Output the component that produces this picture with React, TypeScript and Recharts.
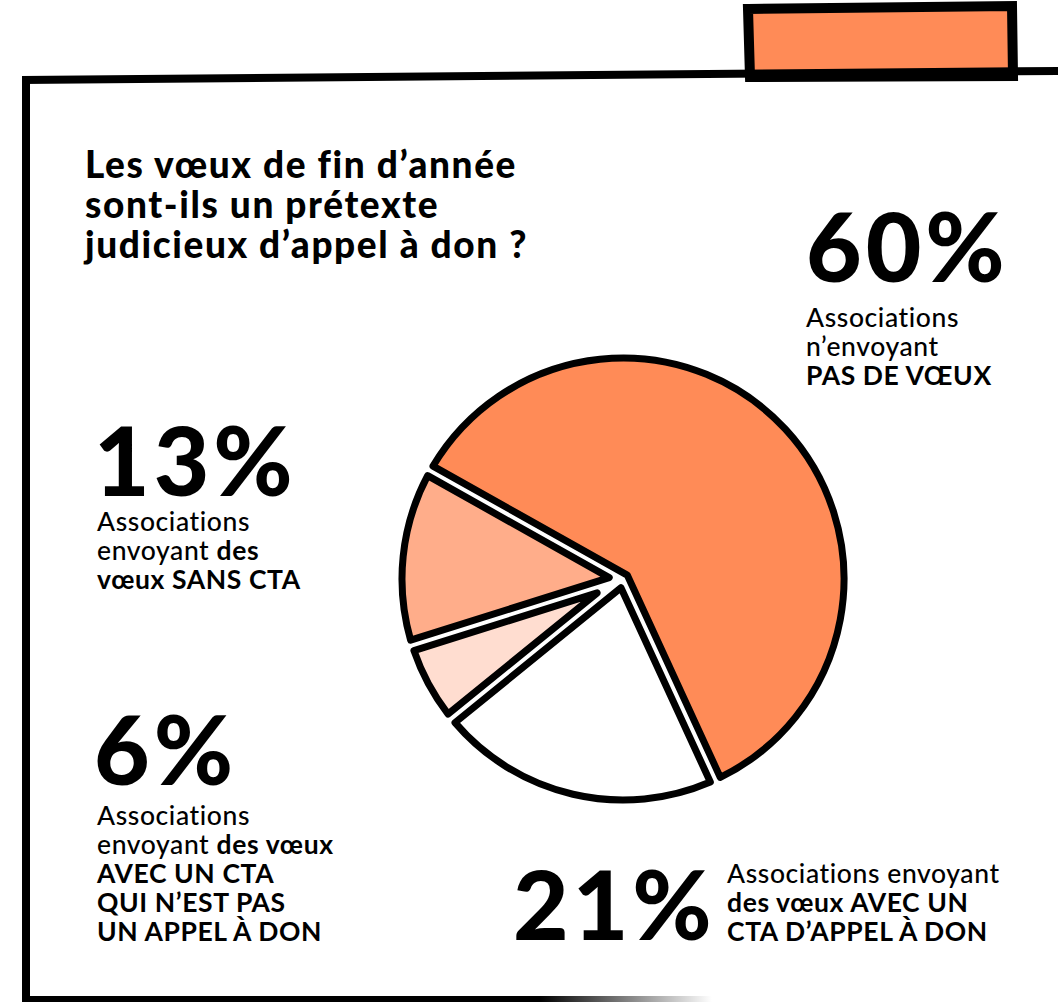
import React from "react";
import { PieChart, Pie, Cell } from "recharts";

// share of associations, clockwise from the top-left
const categories = [
  "Associations n'envoyant PAS DE VŒUX",
  "des vœux AVEC UN CTA D'APPEL À DON",
  "des vœux AVEC UN CTA QUI N'EST PAS UN APPEL À DON",
  "des vœux SANS CTA",
];
const shares = [60, 21, 6, 13];
const sliceColors = ["#ff8b57", "#ffffff", "#ffddd0", "#ffad8a"];

const data = categories.map((name, i) => ({ name, value: shares[i] }));

const RAD = Math.PI / 180;
const INSET = 5.5;
const FONT = "Lato, 'Open Sans', sans-serif";

// sector pulled in from its neighbours so every slice gets its own outline
function InsetSector(props: any) {
  const { cx, cy, outerRadius, startAngle, endAngle, fill } = props;
  const dir = endAngle < startAngle ? -1 : 1;
  const span = Math.abs(endAngle - startAngle);
  const mid = (startAngle + endAngle) / 2;
  const apex = INSET / Math.sin((span / 2) * RAD);
  const pt = (r: number, a: number) => [cx + r * Math.cos(-a * RAD), cy + r * Math.sin(-a * RAD)];
  const da = Math.asin(INSET / outerRadius) / RAD;
  const a0 = startAngle + dir * da;
  const a1 = endAngle - dir * da;
  const [ax, ay] = pt(apex, mid);
  const [x0, y0] = pt(outerRadius, a0);
  const [x1, y1] = pt(outerRadius, a1);
  const large = Math.abs(a1 - a0) > 180 ? 1 : 0;
  const sweep = dir < 0 ? 1 : 0;
  return (
    <path
      d={`M${ax},${ay} L${x0},${y0} A${outerRadius},${outerRadius} 0 ${large} ${sweep} ${x1},${y1} Z`}
      fill={fill}
      stroke="#000"
      strokeWidth={7}
      strokeLinejoin="round"
    />
  );
}

const big = { fontFamily: FONT, fontWeight: 900, fontSize: 96, letterSpacing: 4, fill: "#000" } as const;
const body = { fontFamily: FONT, fontWeight: 500, fontSize: 26.5, letterSpacing: 0.6, fill: "#000" } as const;
const bold = { ...body, fontWeight: 700 } as const;

export default function App() {
  return (
    <div style={{ position: "absolute", left: 0, top: 0, width: 1058, height: 1002, background: "#fff", overflow: "hidden" }}>
      <svg width={1058} height={1002} style={{ position: "absolute", left: 0, top: 0 }}>
        <defs>
          <linearGradient id="fade" x1="0" x2="1" y1="0" y2="0">
            <stop offset="0.75" stopColor="#000" />
            <stop offset="1" stopColor="#000" stopOpacity="0" />
          </linearGradient>
        </defs>
        <polygon points="748,9 1012,6 1013,76 750,77" fill="#ff8b57" stroke="#000" strokeWidth={10} />
        <polygon points="22,76 1058,67 1058,75 22,84" fill="#000" />
        <rect x={22} y={76} width={8} height={930} fill="#000" />
        <rect x={22} y={996} width={690} height={6} fill="url(#fade)" />
      </svg>

      <PieChart width={1058} height={1002} style={{ position: "absolute", left: 0, top: 0 }}>
        <Pie
          data={data}
          dataKey="value"
          nameKey="name"
          cx={618}
          cy={574}
          outerRadius={221}
          startAngle={150.7}
          endAngle={150.7 - 360}
          paddingAngle={0}
          stroke="none"
          shape={InsetSector}
          isAnimationActive={false}
        >
          {data.map((d, i) => (
            <Cell key={d.name} fill={sliceColors[i]} />
          ))}
        </Pie>
      </PieChart>

      <svg width={1058} height={1002} style={{ position: "absolute", left: 0, top: 0 }}>
        <g style={{ fontFamily: FONT, fontWeight: 900, fontSize: 37, letterSpacing: 1.6 }}>
          <text x={85} y={178}>Les vœux de fin d’année</text>
          <text x={85} y={218}>sont-ils un prétexte</text>
          <text x={85} y={258}>judicieux d’appel à don ?</text>
        </g>

        <text x={806} y={282} style={big}>60%</text>
        <text x={806} y={327} style={body}>Associations</text>
        <text x={806} y={356} style={body}>n’envoyant</text>
        <text x={806} y={385} style={bold}>PAS DE VŒUX</text>

        <text x={94} y={496} style={big}>13%</text>
        <text x={97} y={531} style={body}>Associations</text>
        <text x={97} y={560} style={body}>
          envoyant <tspan fontWeight={700}>des</tspan>
        </text>
        <text x={97} y={589} style={bold}>vœux SANS CTA</text>

        <text x={94} y={785} style={big}>6%</text>
        <text x={97} y={825} style={body}>Associations</text>
        <text x={97} y={854} style={body}>
          envoyant <tspan fontWeight={700}>des vœux</tspan>
        </text>
        <text x={97} y={883} style={bold}>AVEC UN CTA</text>
        <text x={97} y={912} style={bold}>QUI N’EST PAS</text>
        <text x={97} y={941} style={bold}>UN APPEL À DON</text>

        <text x={513} y={940} style={big}>21%</text>
        <text x={727} y={883} style={body}>Associations envoyant</text>
        <text x={727} y={912} style={bold}>des vœux AVEC UN</text>
        <text x={727} y={941} style={bold}>CTA D’APPEL À DON</text>
      </svg>
    </div>
  );
}
